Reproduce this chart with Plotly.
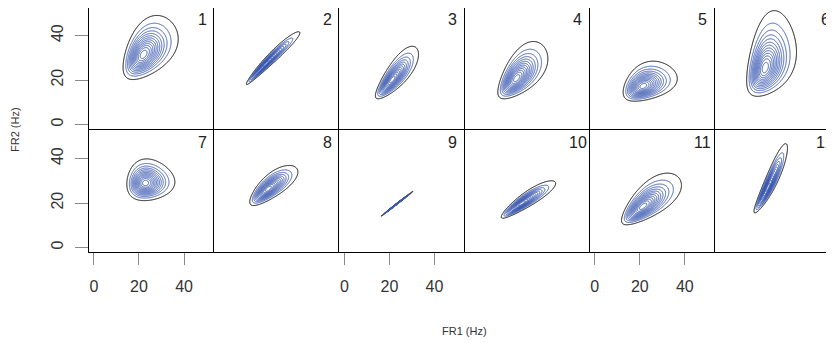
import numpy as np
import plotly.graph_objects as go
from plotly.subplots import make_subplots

# ---- data (per panel, log-normal density parameters) ----
panel_labels = ["1", "2", "3", "4", "5", "6", "7", "8", "9", "10", "11", "12"]
fr1_mode = [22.0, 20.8, 21.3, 20.9, 21.5, 20.1, 22.9, 21.8, 22.3, 23.2, 21.4, 21.3]
fr2_mode = [31.5, 27.4, 20.2, 20.8, 17.3, 25.5, 29.0, 26.4, 18.85, 19.9, 18.5, 27.0]
fr1_logsd = [0.217, 0.222, 0.178, 0.208, 0.218, 0.215, 0.184, 0.193, 0.127, 0.204, 0.240, 0.140]
fr2_logsd = [0.181, 0.172, 0.227, 0.239, 0.204, 0.285, 0.130, 0.137, 0.119, 0.168, 0.242, 0.224]
log_corr = [0.45, 0.97, 0.80, 0.60, 0.35, 0.35, 0.05, 0.75, 0.998, 0.90, 0.70, 0.92]

tick_vals = [0, 20, 40]
tick_text = ["0", "20", "40"]
x_label_cols = [1, 3, 5]

level_start, level_end, level_step = 0.05, 0.95, 0.075

BLUE = "#3A59B2"
OFF = 8  # page body margin
W, H = 834 - OFF, 343 - OFF
LEFT, COLW = 89.0 - OFF, 125.2
ROW_EDGES = [0.0, 129.0 - OFF, 252.0 - OFF]   # figure pixels (top of row1 clipped by page margin)
PXU_X, PXU_Y = 2.25, 2.224
XR = [-2.2, 53.4]
Y_BOTTOM = -2.0
FONT = "Liberation Sans, Arial"

fig = make_subplots(rows=2, cols=6, horizontal_spacing=0, vertical_spacing=0)

n = 260
for i in range(12):
    r, c = i // 6 + 1, i % 6 + 1
    mx, my = fr1_mode[i], fr2_mode[i]
    sx, sy, rho = fr1_logsd[i], fr2_logsd[i], log_corr[i]
    xs = np.linspace(mx * np.exp(-3.2 * sx), mx * np.exp(3.2 * sx), n)
    ys = np.linspace(my * np.exp(-3.2 * sy), my * np.exp(3.2 * sy), n)
    X, Y = np.meshgrid(xs, ys)
    u = np.log(X / mx) / sx
    v = np.log(Y / my) / sy
    q = (u * u - 2 * rho * u * v + v * v) / (1 - rho * rho)
    z = np.exp(-0.5 * q).astype(np.float32)
    fig.add_trace(
        go.Contour(
            x=xs.astype(np.float32), y=ys.astype(np.float32), z=z,
            contours=dict(start=level_start, end=level_end, size=level_step,
                          coloring="lines"),
            colorscale=[[0, "black"], [0.02, "black"], [0.03, BLUE], [1, BLUE]],
            zmin=level_start, zmax=level_end,
            line=dict(width=1),
            showscale=False, hoverinfo="skip",
        ),
        row=r, col=c,
    )

layout_updates = {}
y_tops = []
for i in range(12):
    r, c = i // 6 + 1, i % 6 + 1
    k = "" if i == 0 else str(i + 1)
    x0 = (LEFT + COLW * (c - 1)) / W
    x1 = min((LEFT + COLW * c) / W, 1.0)
    top_px, bot_px = ROW_EDGES[r - 1], ROW_EDGES[r]
    y1 = 1 - top_px / H
    y0 = 1 - bot_px / H
    yr = [Y_BOTTOM, Y_BOTTOM + (bot_px - top_px) / PXU_Y]
    y_tops.append(yr[1])
    xr = list(XR)
    if c == 6:
        xr = [XR[0], XR[0] + (W - (LEFT + COLW * 5)) / PXU_X]
    showx = (r == 2 and c in x_label_cols)
    showy = (c == 1)
    layout_updates["xaxis" + k] = dict(
        domain=[x0, x1], range=xr, showgrid=False, zeroline=False,
        showline=True, linecolor="black", linewidth=1, mirror=(r == 1),
        ticks="outside" if showx else "", tickvals=tick_vals, ticktext=tick_text,
        showticklabels=showx, ticklen=12, tickcolor="#888", tickwidth=1,
        tickfont=dict(size=16, color="#333", family=FONT),
        ticklabelstandoff=8,
    )
    layout_updates["yaxis" + k] = dict(
        domain=[y0, y1], range=yr, showgrid=False, zeroline=False,
        showline=True, linecolor="black", linewidth=1, mirror=False,
        ticks="outside" if showy else "", tickvals=tick_vals, ticktext=tick_text,
        showticklabels=showy, ticklen=13, tickcolor="#888", tickwidth=1,
        tickangle=-90,
        tickfont=dict(size=16, color="#333", family=FONT),
        ticklabelstandoff=6,
    )
fig.update_layout(**layout_updates)

annotations = []
for i in range(12):
    r, c = i // 6 + 1, i % 6 + 1
    k = "" if i == 0 else str(i + 1)
    drop_px = 11 if r == 1 else 13
    right_px = 113 if c < 6 else 110
    annotations.append(dict(
        text=panel_labels[i], xref="x" + k, yref="y" + k,
        x=XR[0] + right_px / PXU_X, y=y_tops[i] - drop_px / PXU_Y,
        showarrow=False, xanchor="center", yanchor="middle",
        font=dict(size=16, color="#222", family=FONT),
    ))
annotations.append(dict(
    text="FR1 (Hz)", xref="paper", yref="paper",
    x=(LEFT + 3 * COLW) / W, y=1 - (331 - OFF) / H, showarrow=False,
    xanchor="center", yanchor="middle",
    font=dict(size=11, color="#333", family=FONT),
))
annotations.append(dict(
    text="FR2 (Hz)", xref="paper", yref="paper",
    x=(15 - OFF) / W, y=1 - (130 - OFF) / H, showarrow=False, textangle=-90,
    xanchor="center", yanchor="middle",
    font=dict(size=11, color="#333", family=FONT),
))

fig.update_layout(
    width=W, height=H, margin=dict(l=0, r=0, t=0, b=0),
    paper_bgcolor="white", plot_bgcolor="white",
    showlegend=False, annotations=annotations,
)

fig.write_html("out.html")
